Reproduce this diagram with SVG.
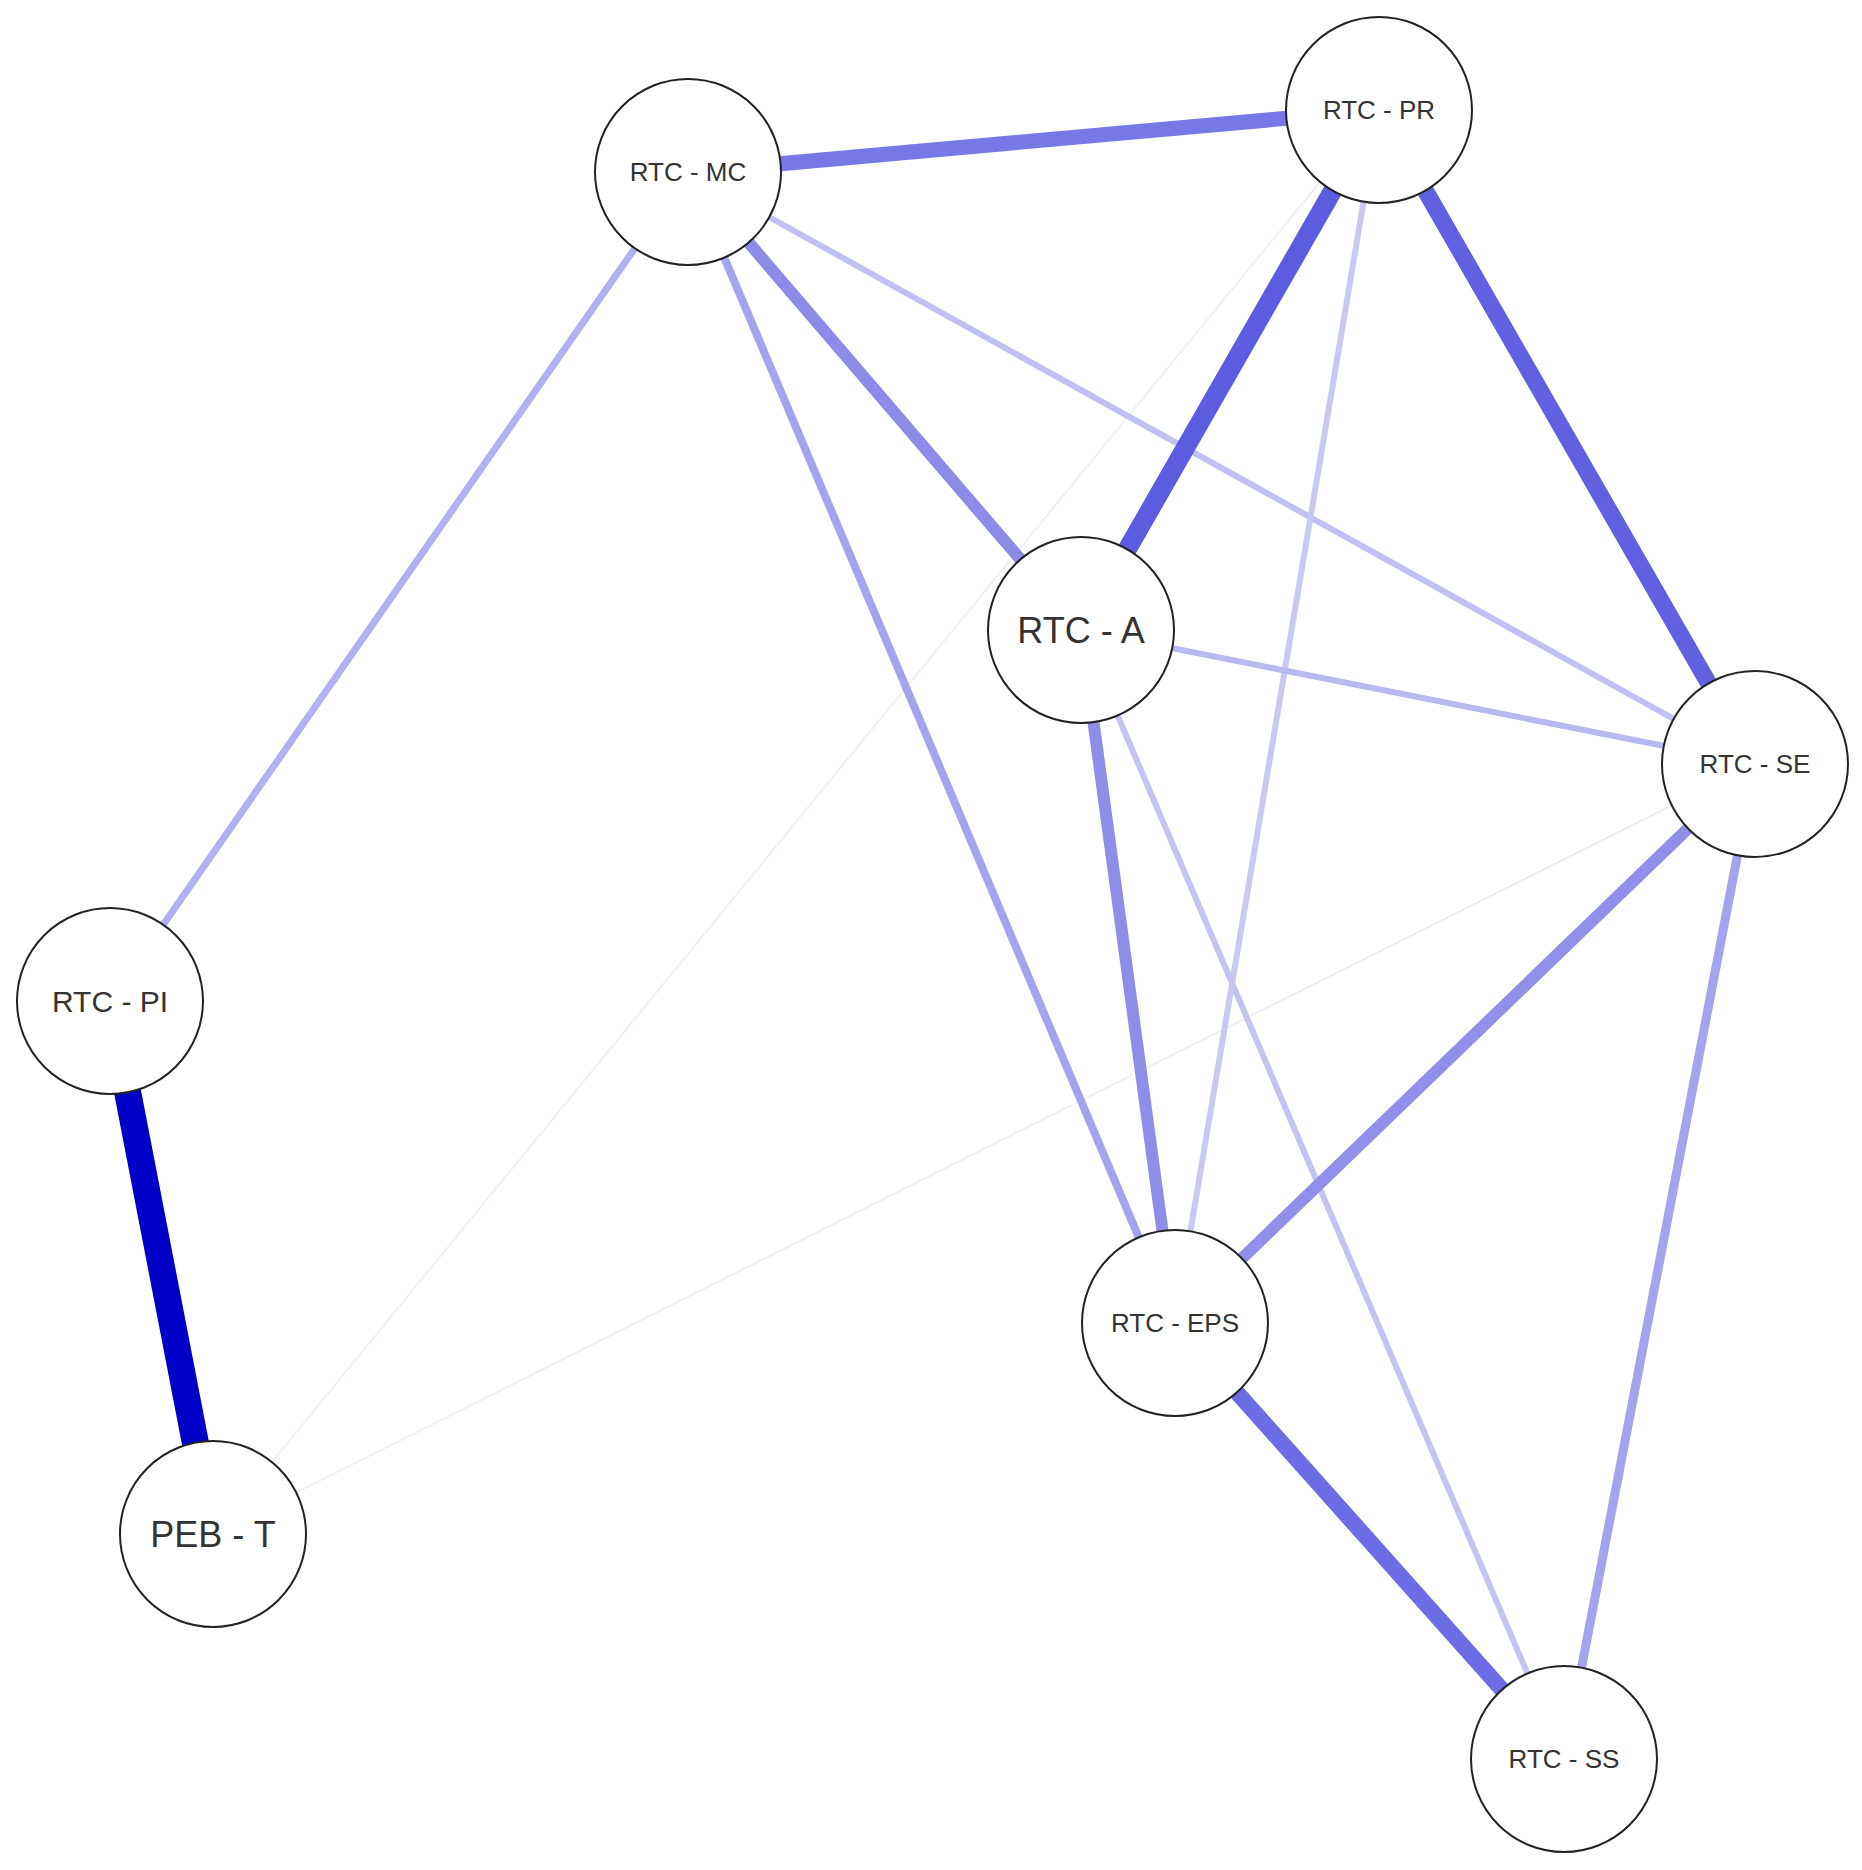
<svg xmlns="http://www.w3.org/2000/svg" width="1862" height="1870" viewBox="0 0 1862 1870">
<style>
.n circle{fill:#fff;stroke:#222;stroke-width:2}
.n text{font-family:"Liberation Sans",Arial,sans-serif;font-size:26px;fill:#333;text-anchor:middle;dominant-baseline:central}
.n text.big{font-size:36px}
#edges line{stroke-linecap:butt}
</style>
<rect width="1862" height="1870" fill="#fff"/>
<g id="edges">
<line x1="1379" y1="110" x2="213" y2="1534" stroke="#ececf8" stroke-width="1.5"/>
<line x1="1755" y1="764" x2="213" y2="1534" stroke="#ececf8" stroke-width="1.5"/>
<line x1="688" y1="172" x2="110" y2="1001" stroke="#b0b0f2" stroke-width="7"/>
<line x1="688" y1="172" x2="1755" y2="764" stroke="#c0c0f4" stroke-width="6"/>
<line x1="688" y1="172" x2="1175" y2="1323" stroke="#a4a4ee" stroke-width="8"/>
<line x1="688" y1="172" x2="1081" y2="630" stroke="#8c8ce8" stroke-width="12"/>
<line x1="1379" y1="110" x2="1175" y2="1323" stroke="#c8c8f4" stroke-width="6"/>
<line x1="1081" y1="630" x2="1755" y2="764" stroke="#b8b8f2" stroke-width="6"/>
<line x1="1081" y1="630" x2="1564" y2="1759" stroke="#c4c4f4" stroke-width="6"/>
<line x1="1081" y1="630" x2="1175" y2="1323" stroke="#8e8ee8" stroke-width="12"/>
<line x1="1755" y1="764" x2="1175" y2="1323" stroke="#9090ea" stroke-width="12"/>
<line x1="1755" y1="764" x2="1564" y2="1759" stroke="#a4a4ee" stroke-width="9"/>
<line x1="1175" y1="1323" x2="1564" y2="1759" stroke="#6c6ce4" stroke-width="16"/>
<line x1="688" y1="172" x2="1379" y2="110" stroke="#7777e6" stroke-width="15"/>
<line x1="1379" y1="110" x2="1081" y2="630" stroke="#5c5ce0" stroke-width="19"/>
<line x1="1379" y1="110" x2="1755" y2="764" stroke="#6060e0" stroke-width="17"/>
<line x1="110" y1="1001" x2="213" y2="1534" stroke="#0000c8" stroke-width="27"/>
</g>
<g id="MC" class="n"><circle cx="688" cy="172" r="93"/><text x="688" y="172">RTC - MC</text></g>
<g id="PR" class="n"><circle cx="1379" cy="110" r="93"/><text x="1379" y="110">RTC - PR</text></g>
<g id="A" class="n"><circle cx="1081" cy="630" r="93"/><text class="big" x="1081" y="630">RTC - A</text></g>
<g id="SE" class="n"><circle cx="1755" cy="764" r="93"/><text x="1755" y="764">RTC - SE</text></g>
<g id="PI" class="n"><circle cx="110" cy="1001" r="93"/><text x="110" y="1001" style="font-size:30px">RTC - PI</text></g>
<g id="PEB" class="n"><circle cx="213" cy="1534" r="93"/><text class="big" x="213" y="1534">PEB - T</text></g>
<g id="EPS" class="n"><circle cx="1175" cy="1323" r="93"/><text x="1175" y="1323">RTC - EPS</text></g>
<g id="SS" class="n"><circle cx="1564" cy="1759" r="93"/><text x="1564" y="1759">RTC - SS</text></g>
</svg>
